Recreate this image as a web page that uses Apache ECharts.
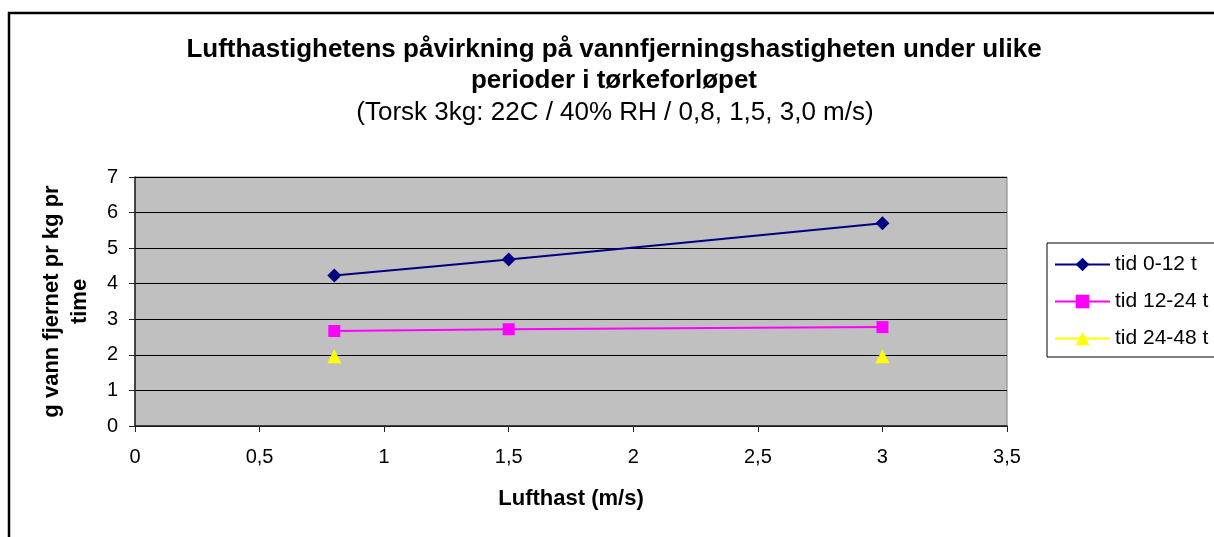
<!DOCTYPE html>
<html>
<head>
<meta charset="utf-8">
<script src="https://cdn.jsdelivr.net/npm/echarts@6/dist/echarts.min.js"></script>
<style>
  html, body { margin: 0; padding: 0; background: #fff; }
  #chart { width: 1214px; height: 537px; }
</style>
</head>
<body>
<div id="chart"></div>
<script>
// data
var speeds = [0.8, 1.5, 3.0];
var tid0to12 = [4.23, 4.68, 5.70];
var tid12to24 = [2.67, 2.72, 2.78];
var tid24to48 = [1.96, null, 1.96];
var seriesNames = ["tid 0-12 t", "tid 12-24 t", "tid 24-48 t"];
var xTicks = [0, 0.5, 1, 1.5, 2, 2.5, 3, 3.5];

function pairs(xs, ys) {
    return xs.map(function(x, i) { return [x, ys[i]]; });
}

var font = "'Liberation Sans', Arial, sans-serif";
var myChart = echarts.init(document.getElementById("chart"));

var option = {
    backgroundColor: "#fff",
    animation: false,
    graphic: [
        {
            type: "rect",
            shape: { x: 9, y: 13, width: 1300, height: 600 },
            style: { fill: "none", stroke: "#000", lineWidth: 2.5 }
        }
    ],
    title: [
        {
            text: "Lufthastighetens påvirkning på vannfjerningshastigheten under ulike\nperioder i tørkeforløpet",
            left: 609,
            top: 29,
            textAlign: "center",
            textStyle: { fontFamily: font, fontSize: 26, fontWeight: "bold", color: "#000", lineHeight: 31 }
        },
        {
            text: "(Torsk 3kg: 22C / 40% RH / 0,8, 1,5, 3,0 m/s)",
            left: 610,
            top: 92,
            textAlign: "center",
            textStyle: { fontFamily: font, fontSize: 26, fontWeight: "normal", color: "#000", lineHeight: 31 }
        }
    ],
    legend: {
        orient: "vertical",
        left: 1047,
        top: 243,
        padding: [11, 12, 8, 7],
        itemGap: 16,
        itemWidth: 55,
        itemHeight: 17,
        borderColor: "#000",
        borderWidth: 1,
        backgroundColor: "#fff",
        data: seriesNames,
        textStyle: { fontFamily: font, fontSize: 21, color: "#000" }
    },
    grid: {
        left: 135,
        right: 207,
        top: 177,
        bottom: 111,
        show: true,
        backgroundColor: "#c0c0c0",
        borderColor: "#808080",
        borderWidth: 1
    },
    xAxis: {
        type: "value",
        min: 0,
        max: 3.5,
        interval: 0.5,
        name: "Lufthast (m/s)",
        nameLocation: "middle",
        nameGap: 62,
        nameTextStyle: { fontFamily: font, fontSize: 22, fontWeight: "bold", color: "#000" },
        axisLine: { show: true, onZero: false, lineStyle: { color: "#222", width: 1.5 } },
        axisTick: { show: true, inside: false, length: 6, lineStyle: { color: "#222" } },
        axisLabel: {
            fontFamily: font, fontSize: 20, color: "#000", margin: 21,
            formatter: function(v) { return String(v).replace(".", ","); }
        },
        splitLine: { show: false }
    },
    yAxis: {
        type: "value",
        min: 0,
        max: 7,
        interval: 1,
        name: "g vann fjernet pr kg pr\ntime",
        nameLocation: "middle",
        nameRotate: 90,
        nameGap: 41,
        nameTextStyle: { fontFamily: font, fontSize: 22, fontWeight: "bold", color: "#000", lineHeight: 28 },
        axisLine: { show: true, lineStyle: { color: "#222", width: 1.5 } },
        axisTick: { show: true, inside: false, length: 6, lineStyle: { color: "#222" } },
        axisLabel: { fontFamily: font, fontSize: 20, color: "#000", margin: 17 },
        splitLine: { show: true, lineStyle: { color: "#000", width: 1 } }
    },
    series: [
        {
            name: seriesNames[0],
            type: "line",
            smooth: 0.3,
            data: pairs(speeds, tid0to12),
            symbol: "diamond",
            symbolSize: 14,
            itemStyle: { color: "#000080" },
            lineStyle: { color: "#000080", width: 2 }
        },
        {
            name: seriesNames[1],
            type: "line",
            smooth: 0.3,
            data: pairs(speeds, tid12to24),
            symbol: "rect",
            symbolSize: 12,
            itemStyle: { color: "#ff00ff" },
            lineStyle: { color: "#ff00ff", width: 2 }
        },
        {
            name: seriesNames[2],
            type: "line",
            connectNulls: false,
            data: pairs(speeds, tid24to48),
            symbol: "triangle",
            symbolSize: 14,
            itemStyle: { color: "#ffff00" },
            lineStyle: { color: "#ffff00", width: 2 }
        }
    ]
};
myChart.setOption(option);
</script>
</body>
</html>
